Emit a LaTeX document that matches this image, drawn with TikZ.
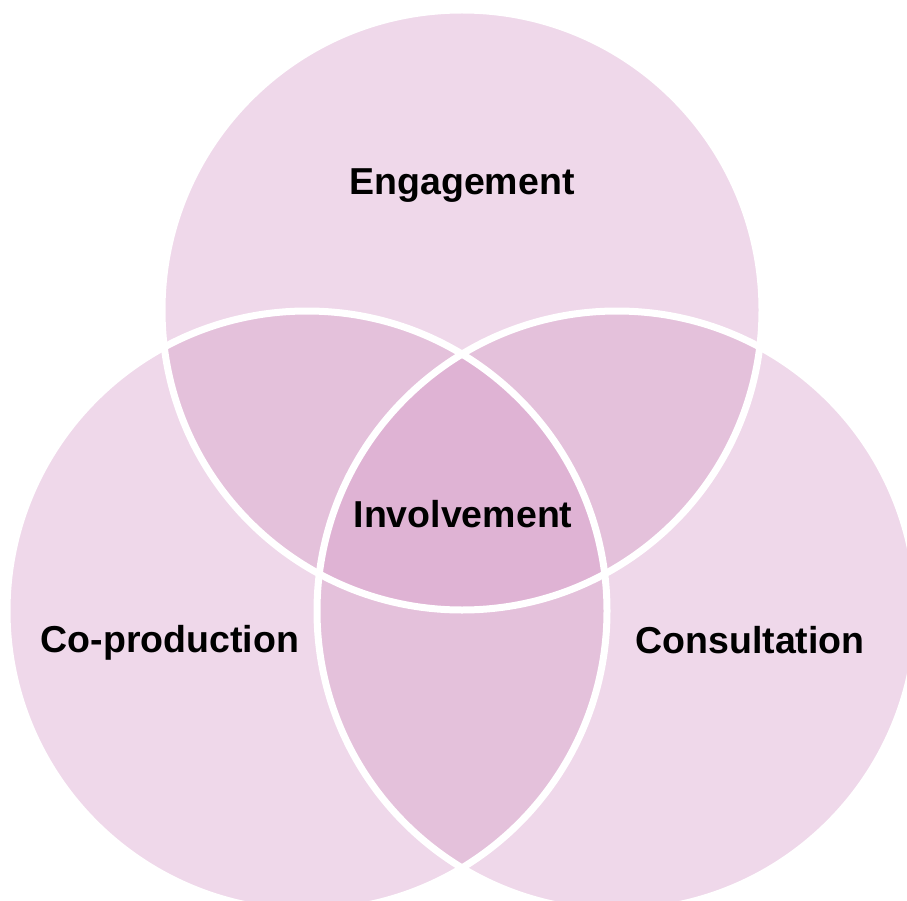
\documentclass[tikz,border=0pt]{standalone}
\usepackage{fontspec}
\setmainfont{Liberation Sans}
\definecolor{outerc}{HTML}{EFD8EA}
\definecolor{pairc}{HTML}{E4C1DB}
\definecolor{centc}{HTML}{DFB3D4}
\begin{document}
\begin{tikzpicture}[x=1pt,y=-1pt,
  lbl/.style={font=\fontsize{37.5}{42}\selectfont\bfseries, text=black, inner sep=0pt}]
\useasboundingbox (0,0) rectangle (907,901);
\clip (0,0) rectangle (907,901);
\fill[white] (0,0) rectangle (907,901);
\def\ctop{(462,310) circle[radius=300]}
\def\cleft{(307,611) circle[radius=300]}
\def\cright{(617,611) circle[radius=300]}
% base fills
\fill[outerc] \ctop;
\fill[outerc] \cleft;
\fill[outerc] \cright;
% pairwise overlaps
\begin{scope}\clip \ctop; \fill[pairc] \cleft; \fill[pairc] \cright;\end{scope}
\begin{scope}\clip \cleft; \fill[pairc] \cright;\end{scope}
% centre
\begin{scope}\clip \ctop; \clip \cleft; \fill[centc] \cright;\end{scope}
% outlines
\draw[white, line width=7] \ctop;
\draw[white, line width=7] \cleft;
\draw[white, line width=7] \cright;
% labels
\node[lbl] (eng) at (462,186) {Engagement};
\node[lbl] (inv) at (463,514) {Involvement};
\node[lbl] (cop) at (170,643) {Co-production};
\node[lbl] (con) at (750,640) {Consultation};
\end{tikzpicture}
\end{document}
